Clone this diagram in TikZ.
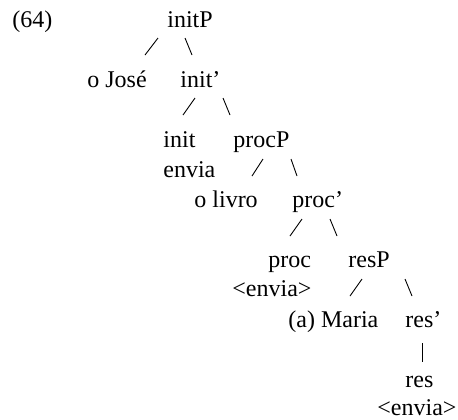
\documentclass[tikz,border=0pt]{standalone}
\usepackage{fontspec}
\setmainfont{Liberation Serif}
\usetikzlibrary{calc}
\begin{document}
\begin{tikzpicture}[x=0.5pt,y=-0.5pt,
  lab/.style={inner sep=0pt,anchor=base west,font=\fontsize{12pt}{15pt}\selectfont},
  branch/.style={line width=0.45pt}]
\useasboundingbox (0,0) rectangle (458,419);
% labels, placed by their baselines
\node[lab] (ex)     at (12,27)   {(64)};
\node[lab] (initP)  at (167,27)  {initP};
\node[lab] (jose)   at (87,87)   {o José};
\node[lab] (initb)  at (180,87)  {init’};
\node[lab] (init)   at (163,147) {init};
\node[lab] (envA)   at (163,177) {envia};
\node[lab] (procP)  at (233,147) {procP};
\node[lab] (livro)  at (194,207) {o livro};
\node[lab] (procb)  at (292,207) {proc’};
\node[lab] (proc)   at (268,267) {proc};
\node[lab] (envB)   at (232,296) {<envia>};
\node[lab] (resP)   at (348,267) {resP};
\node[lab] (maria)  at (288,327) {(a) Maria};
\node[lab] (resb)   at (405,327) {res’};
\node[lab] (res)    at (405,387) {res};
\node[lab] (envC)   at (377,415) {<envia>};
% branches, hung below each mother label
\draw[branch] ($(initP.base west)+(-9,11)$) -- ($(initP.base west)+(-22,28)$);
\draw[branch] ($(initP.base west)+(18,11)$) -- ($(initP.base west)+(25,28)$);
\draw[branch] ($(initb.base west)+(15,11)$) -- ($(initb.base west)+(3,28)$);
\draw[branch] ($(initb.base west)+(43,11)$) -- ($(initb.base west)+(50,28)$);
\draw[branch] ($(procP.base west)+(30,12)$) -- ($(procP.base west)+(19,29)$);
\draw[branch] ($(procP.base west)+(58,12)$) -- ($(procP.base west)+(64,29)$);
\draw[branch] ($(procb.base west)+(10,12)$) -- ($(procb.base west)+(-2,29)$);
\draw[branch] ($(procb.base west)+(38,12)$) -- ($(procb.base west)+(45,29)$);
\draw[branch] ($(resP.base west)+(14,12)$) -- ($(resP.base west)+(2,29)$);
\draw[branch] ($(resP.base west)+(57,12)$) -- ($(resP.base west)+(64,29)$);
\draw[branch] ($(resb.base west)+(17,16)$) -- ($(resb.base west)+(17,35)$);
\end{tikzpicture}
\end{document}
